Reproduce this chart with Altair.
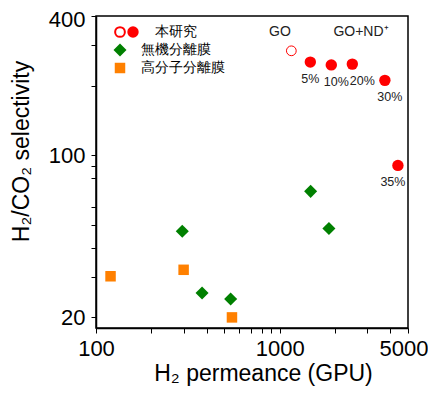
import altair as alt
import pandas as pd

# --- data ---
this_labels = ["5%", "10%", "20%", "30%", "35%"]
this_perm = [1469, 1911, 2487, 3742, 4406]
this_sel = [253, 246, 248, 211, 90.6]

go_perm = [1158]
go_sel = [283]

inorg_perm = [295, 378, 541, 1475, 1855]
inorg_sel = [47.1, 25.5, 24.0, 70.0, 48.4]

poly_perm = [120, 300, 550]
poly_sel = [30.1, 32.1, 20.0]

x_ticks = [100, 200, 300, 400, 500, 600, 700, 800, 900, 1000, 2000, 3000, 4000, 5000]
x_major = [100, 1000, 5000]
y_ticks = [20, 30, 40, 50, 60, 80, 90, 100, 200, 300, 400]
y_major = [20, 100, 400]

FONT = "Liberation Sans"

this_df = pd.DataFrame({"p": this_perm, "s": this_sel, "lab": this_labels})
go_df = pd.DataFrame({"p": go_perm, "s": go_sel})
inorg_df = pd.DataFrame({"p": inorg_perm, "s": inorg_sel})
poly_df = pd.DataFrame({"p": poly_perm, "s": poly_sel})

def lab_expr(vals):
    arr = ",".join(str(v) for v in vals)
    return f"indexof([{arr}], datum.value) >= 0 ? format(datum.value, 'd') : ''"

xs = alt.Scale(type="log", domain=[100, 5000], nice=False)
ys = alt.Scale(type="log", domain=[18, 400], nice=False)

X = alt.X("p:Q", scale=xs, axis=alt.Axis(
    values=x_ticks, labelExpr=lab_expr(x_major), title="H₂ permeance (GPU)",
    labelFlush=False, labelOverlap=False, grid=False, tickSize=5,
    labelAlign={"condition": {"test": "datum.value == 5000", "value": "right"}, "value": "center"},
    labelOffset={"condition": {"test": "datum.value == 5000", "value": 20}, "value": 0},
    labelPadding=5, titlePadding=3, titleX=167))
Y = alt.Y("s:Q", scale=ys, axis=alt.Axis(
    values=y_ticks, labelExpr=lab_expr(y_major), title="H₂/CO₂ selectivity",
    labelFlush=False, labelOverlap=False, grid=False, tickSize=5,
    labelOffset={"condition": {"test": "datum.value == 400", "value": 3}, "value": 0},
    labelPadding=6, titlePadding=15, titleY=135))

RED = "#ff0000"
GREEN = "#008000"
ORANGE = "#ff8000"

inorg = alt.Chart(inorg_df).mark_point(shape="diamond", filled=True, size=170, color=GREEN, opacity=1).encode(x=X, y=Y)
poly = alt.Chart(poly_df).mark_point(shape="square", filled=True, size=110, color=ORANGE, opacity=1).encode(x="p:Q", y="s:Q")
this = alt.Chart(this_df).mark_circle(size=130, color=RED, opacity=1).encode(x="p:Q", y="s:Q")
go = alt.Chart(go_df).mark_point(shape="circle", filled=False, size=95, color=RED, strokeWidth=1, opacity=1).encode(x="p:Q", y="s:Q")

# percentage labels below the points
label_dx = {"5%": 0, "10%": 5, "20%": 10, "30%": 5, "35%": -5}
label_layers = []
for lab, dx in label_dx.items():
    label_layers.append(
        alt.Chart(this_df).transform_filter(alt.datum.lab == lab)
        .mark_text(font=FONT, fontSize=12.5, color="#222", dx=dx, dy=17)
        .encode(x="p:Q", y="s:Q", text="lab:N"))

# annotations
go_txt = alt.Chart().mark_text(font=FONT, fontSize=14, color="#222", text="GO").encode(
    x=alt.value(184), y=alt.value(16))
gond_txt = alt.Chart().mark_text(font=FONT, fontSize=14, color="#222", text="GO+ND⁺").encode(
    x=alt.value(265), y=alt.value(16))

# manual legend
leg = [
    alt.Chart().mark_point(shape="circle", filled=False, size=95, color=RED, opacity=1).encode(x=alt.value(24), y=alt.value(16)),
    alt.Chart().mark_point(shape="circle", filled=True, size=130, color=RED, opacity=1).encode(x=alt.value(37), y=alt.value(16)),
    alt.Chart().mark_text(font=FONT, fontSize=14, color="black", align="left", text="本研究").encode(x=alt.value(59), y=alt.value(16)),
    alt.Chart().mark_point(shape="diamond", filled=True, size=170, color=GREEN, opacity=1).encode(x=alt.value(24), y=alt.value(34)),
    alt.Chart().mark_text(font=FONT, fontSize=14, color="black", align="left", text="無機分離膜").encode(x=alt.value(45), y=alt.value(34)),
    alt.Chart().mark_point(shape="square", filled=True, size=110, color=ORANGE, opacity=1).encode(x=alt.value(24), y=alt.value(52)),
    alt.Chart().mark_text(font=FONT, fontSize=14, color="black", align="left", text="高分子分離膜").encode(x=alt.value(45), y=alt.value(52)),
]

chart = alt.layer(inorg, poly, this, go, *label_layers, go_txt, gond_txt, *leg).properties(
    width=312, height=312,
    background="white",
    autosize=alt.AutoSizeParams(type="none"),
    padding={"left": 88, "top": 8, "right": 20, "bottom": 60},
).configure_view(stroke="black", strokeWidth=1.5).configure_axis(
    domainColor="black", domainWidth=1.5, tickColor="black", tickWidth=1,
    labelFont=FONT, labelFontSize=22, labelColor="black",
    titleFont=FONT, titleFontSize=23, titleColor="black", titleFontWeight="normal",
)

chart.save("out.html", embed_options={"renderer": "svg", "actions": False})
